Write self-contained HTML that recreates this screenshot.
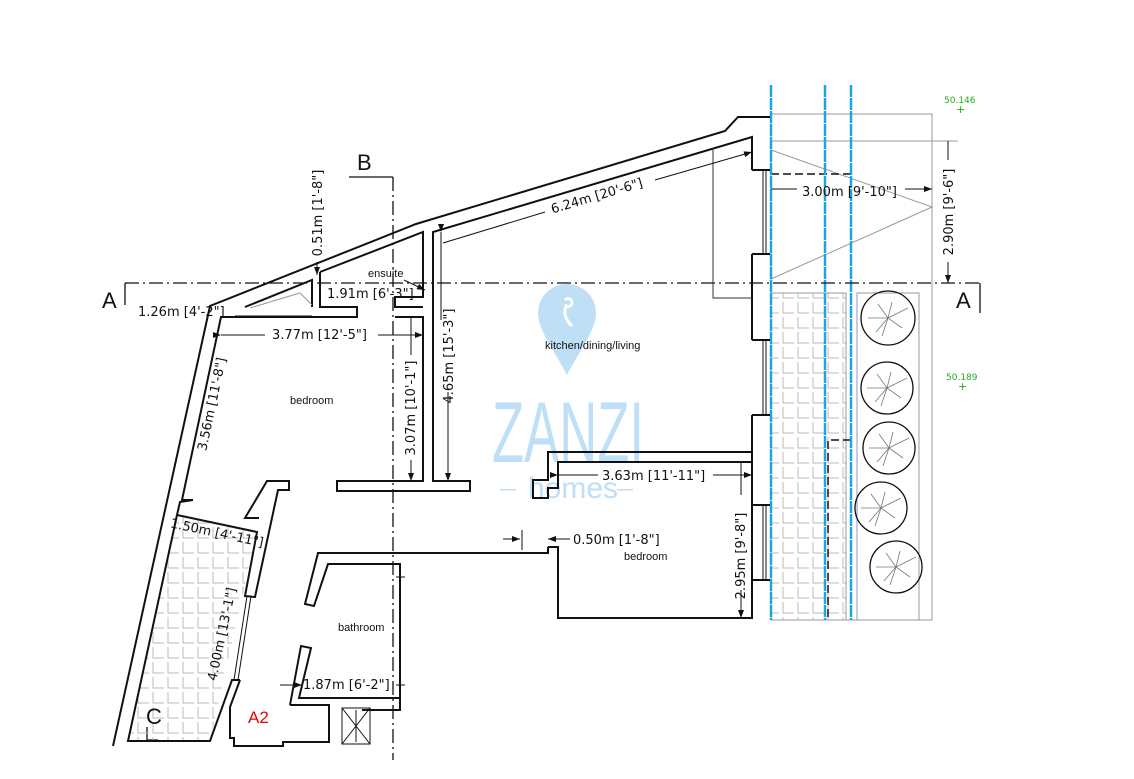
<!DOCTYPE html>
<html><head><meta charset="utf-8"><style>
html,body{margin:0;padding:0;background:#fff}
svg{display:block}
.d{font-family:"DejaVu Sans",sans-serif;font-size:13px;fill:#111}
.r{font-family:"Liberation Sans",sans-serif;font-size:11px;fill:#111}
</style></head><body>
<svg width="1134" height="779" viewBox="0 0 1134 779" xmlns="http://www.w3.org/2000/svg">
<defs>
<pattern id="tile" width="15" height="15" patternUnits="userSpaceOnUse">
<path d="M3 2 V13 H14" fill="none" stroke="#bbb" stroke-width="1"/>
</pattern>
<marker id="ar" markerWidth="8" markerHeight="6" refX="8" refY="3" orient="auto"><path d="M0,0 L8,3 L0,6z" fill="#111"/></marker>
<clipPath id="bc"><polygon points="177,515 257,532 210,741 128,741"/></clipPath>
</defs>

<!-- watermark -->
<g fill="#bfdff6">
<path d="M538,313 A29,29 0 1 1 596,313 C596,330 580,350 567,375 C554,350 538,330 538,313z"/>
<text x="492" y="462" font-family="Liberation Sans,sans-serif" font-size="86" textLength="152" lengthAdjust="spacingAndGlyphs">ZANZI</text>
<text x="528" y="498" font-family="Liberation Sans,sans-serif" font-size="30">homes</text>
<rect x="500" y="489" width="16" height="1.5"/><rect x="617" y="489" width="16" height="1.5"/>
</g>
<path d="M565,300 a4,4 0 1 1 1,6 c-3,8 0,14 6,20" fill="none" stroke="#fff" stroke-width="3"/>

<!-- right garden area -->
<rect x="771" y="293" width="75" height="327" fill="url(#tile)"/>
<g fill="none" stroke="#999" stroke-width="1">
<rect x="771" y="114" width="161" height="506"/>
<line x1="771" y1="141" x2="958" y2="141"/>
<polyline points="771,150 932,207 771,279"/>
<rect x="771" y="293" width="75" height="327"/>
<rect x="857" y="293" width="62" height="327"/>
</g>
<g fill="none" stroke="#111" stroke-width="1.3">
<circle cx="888" cy="318" r="27"/><circle cx="887" cy="388" r="26"/><circle cx="889" cy="448" r="26"/><circle cx="881" cy="508" r="26"/><circle cx="896" cy="567" r="26"/>
</g>
<g stroke="#777" stroke-width="0.8">
<path d="M888,318 l20,-10 M888,318 l-20,0 M888,318 l-6,18 M888,318 l14,10 M888,318 l-10,-14 M888,318 l4,-16 M888,318 l-12,14"/>
<path d="M887,388 l20,-10 M887,388 l-20,0 M887,388 l-6,18 M887,388 l14,10 M887,388 l-10,-14 M887,388 l4,-16 M887,388 l-12,14"/>
<path d="M889,448 l20,-10 M889,448 l-20,0 M889,448 l-6,18 M889,448 l14,10 M889,448 l-10,-14 M889,448 l4,-16 M889,448 l-12,14"/>
<path d="M881,508 l20,-10 M881,508 l-20,0 M881,508 l-6,18 M881,508 l14,10 M881,508 l-10,-14 M881,508 l4,-16 M881,508 l-12,14"/>
<path d="M896,567 l20,-10 M896,567 l-20,0 M896,567 l-6,18 M896,567 l14,10 M896,567 l-10,-14 M896,567 l4,-16 M896,567 l-12,14"/>
</g>
<path d="M771,174 H851" stroke="#111" stroke-width="1.5" stroke-dasharray="8,4"/>
<path d="M851,440 H828 V620" fill="none" stroke="#111" stroke-width="1.5" stroke-dasharray="8,4"/>
<g stroke="#1aa6df" stroke-width="2.5" stroke-dasharray="12,1">
<line x1="771" y1="85" x2="771" y2="620"/><line x1="825" y1="85" x2="825" y2="620"/><line x1="851" y1="85" x2="851" y2="620"/>
</g>

<!-- section lines -->
<g fill="none" stroke="#111" stroke-width="1.3">
<line x1="125" y1="283" x2="980" y2="283" stroke-dasharray="14,4,2,4"/>
<path d="M125,283 V305"/><path d="M980,283 V313"/>
<path d="M349,177 H393"/>
<line x1="393" y1="177" x2="393" y2="760" stroke-dasharray="14,4,2,4"/>
<path d="M147,727 V740 H158"/>
</g>

<rect x="128" y="516" width="125" height="224" fill="url(#tile)" clip-path="url(#bc)"/>

<!-- walls -->
<g fill="none" stroke="#111" stroke-width="2">
<polyline points="113,746 210,306 416,224 725,131 738,117 770,117"/>
<polyline points="245,307 312,280 312,307"/>
<polyline points="320,272 320,307 357,307 357,317 221,317 182,500 193,500"/>
<polyline points="320,272 423,232 423,297 395,297 395,307 423,307"/>
<polyline points="395,317 423,317 423,481 337,481 337,491 470,491 470,481 433,481 433,232 752,137 752,170"/>
<line x1="752" y1="170" x2="770" y2="170"/>
<polyline points="752,254 752,340"/><polyline points="752,415 752,505"/><polyline points="752,580 752,618"/>
<line x1="752" y1="254" x2="770" y2="254"/><line x1="752" y1="340" x2="770" y2="340"/>
<line x1="752" y1="415" x2="770" y2="415"/><line x1="752" y1="505" x2="770" y2="505"/>
<line x1="752" y1="580" x2="770" y2="580"/>
<polyline points="752,452 548,452 548,480 533,480 533,498 548,498 548,488 558,488 558,462 752,462"/>
<polyline points="548,547 558,547 558,618 752,618 752,462"/>
<polyline points="548,547 548,553 318,553 305,604 314,606 328,564 400,564 400,698 299,698 311,648 301,646 290,705"/>
<polyline points="290,705 329,705 329,742 283,742 283,746 234,746 234,738 230,738 230,707 240,680"/>
<polyline points="193,500 180,502 177,515 257,532 245,596 255,597 278,490 289,490 289,481 267,481 245,518 259,518"/>
<polyline points="177,515 128,741 210,741 232,680 240,680"/>
<polyline points="400,698 400,710 362,710"/>
</g>
<g stroke="#111" stroke-width="1" fill="none">
<rect x="342" y="708" width="28" height="36"/><path d="M342,708 L370,744 M370,708 L342,744"/>
<line x1="356" y1="710" x2="356" y2="742"/>
<line x1="234" y1="680" x2="247" y2="596"/><line x1="238" y1="680" x2="251" y2="596"/>
<line x1="763" y1="170" x2="763" y2="254"/><line x1="766" y1="170" x2="766" y2="254"/>
<line x1="763" y1="340" x2="763" y2="415"/><line x1="766" y1="340" x2="766" y2="415"/>
<line x1="763" y1="505" x2="763" y2="580"/><line x1="766" y1="505" x2="766" y2="580"/>
<polyline points="713,148 713,298 752,298" stroke="#333"/>
<polyline points="250,308 300,293 312,305" stroke="#999"/>
</g>

<!-- dimension lines -->
<g stroke="#111" stroke-width="1" fill="none">
<line x1="317" y1="262" x2="317" y2="275" marker-end="url(#ar)"/>
<line x1="221" y1="335" x2="265" y2="335" marker-start="url(#ar)"/><line x1="378" y1="335" x2="423" y2="335" marker-end="url(#ar)"/>
<line x1="235" y1="316" x2="312" y2="316"/>
<line x1="441" y1="232" x2="441" y2="320" marker-start="url(#ar)"/><line x1="448" y1="392" x2="448" y2="481" marker-end="url(#ar)"/>
<line x1="411" y1="317" x2="411" y2="355" /><line x1="411" y1="460" x2="411" y2="481" marker-end="url(#ar)"/>
<line x1="443" y1="243" x2="545" y2="212"/><line x1="655" y1="180" x2="752" y2="152" marker-end="url(#ar)"/>
<line x1="771" y1="189" x2="797" y2="189"/><line x1="905" y1="189" x2="932" y2="189" marker-end="url(#ar)"/>
<line x1="948" y1="141" x2="948" y2="160"/><line x1="948" y1="262" x2="948" y2="283" marker-end="url(#ar)"/>
<line x1="558" y1="475" x2="598" y2="475" marker-start="url(#ar)"/><line x1="713" y1="475" x2="752" y2="475" marker-end="url(#ar)"/>
<line x1="741" y1="462" x2="741" y2="495"/><line x1="741" y1="590" x2="741" y2="618" marker-end="url(#ar)"/>
<line x1="503" y1="539" x2="520" y2="539" marker-end="url(#ar)"/><line x1="522" y1="530" x2="522" y2="550"/>
<line x1="570" y1="539" x2="548" y2="539" marker-end="url(#ar)"/>
<line x1="280" y1="685" x2="302" y2="685" marker-end="url(#ar)"/>
<line x1="396" y1="577" x2="405" y2="577"/><line x1="396" y1="685" x2="405" y2="685"/>
<line x1="404" y1="280" x2="425" y2="290" marker-end="url(#ar)"/>
</g>

<!-- dimension text -->
<g class="d">
<text transform="translate(322,213) rotate(-90)" text-anchor="middle">0.51m [1'-8"]</text>
<text x="138" y="316">1.26m [4'-2"]</text>
<text x="327" y="298">1.91m [6'-3"]</text>
<text x="272" y="339">3.77m [12'-5"]</text>
<text transform="translate(216,405) rotate(-78)" text-anchor="middle">3.56m [11'-8"]</text>
<text transform="translate(415,408) rotate(-90)" text-anchor="middle">3.07m [10'-1"]</text>
<text transform="translate(453,356) rotate(-90)" text-anchor="middle">4.65m [15'-3"]</text>
<text transform="translate(598,200) rotate(-16.5)" text-anchor="middle">6.24m [20'-6"]</text>
<text x="802" y="196">3.00m [9'-10"]</text>
<text transform="translate(953,212) rotate(-90)" text-anchor="middle">2.90m [9'-6"]</text>
<text x="602" y="480">3.63m [11'-11"]</text>
<text transform="translate(745,556) rotate(-90)" text-anchor="middle">2.95m [9'-8"]</text>
<text x="573" y="544">0.50m [1'-8"]</text>
<text transform="translate(216,537) rotate(12)" text-anchor="middle">1.50m [4'-11"]</text>
<text transform="translate(226,635) rotate(-78)" text-anchor="middle">4.00m [13'-1"]</text>
<text x="303" y="689">1.87m [6'-2"]</text>
</g>

<g class="r">
<text x="368" y="277">ensuite</text>
<text x="290" y="404">bedroom</text>
<text x="545" y="349">kitchen/dining/living</text>
<text x="338" y="631">bathroom</text>
<text x="624" y="560">bedroom</text>
</g>
<g font-family="Liberation Sans,sans-serif" font-size="22" fill="#111">
<text x="102" y="308">A</text><text x="956" y="308">A</text><text x="357" y="170">B</text><text x="146" y="724">C</text>
</g>
<text x="248" y="723" font-family="Liberation Sans,sans-serif" font-size="17" fill="#e00">A2</text>
<g font-family="DejaVu Sans,sans-serif" font-size="9" fill="#2a2">
<text x="944" y="103">50.146</text><text x="956" y="113" font-size="11">+</text>
<text x="946" y="380">50.189</text><text x="958" y="390" font-size="11">+</text>
</g>
</svg>
</body></html>
